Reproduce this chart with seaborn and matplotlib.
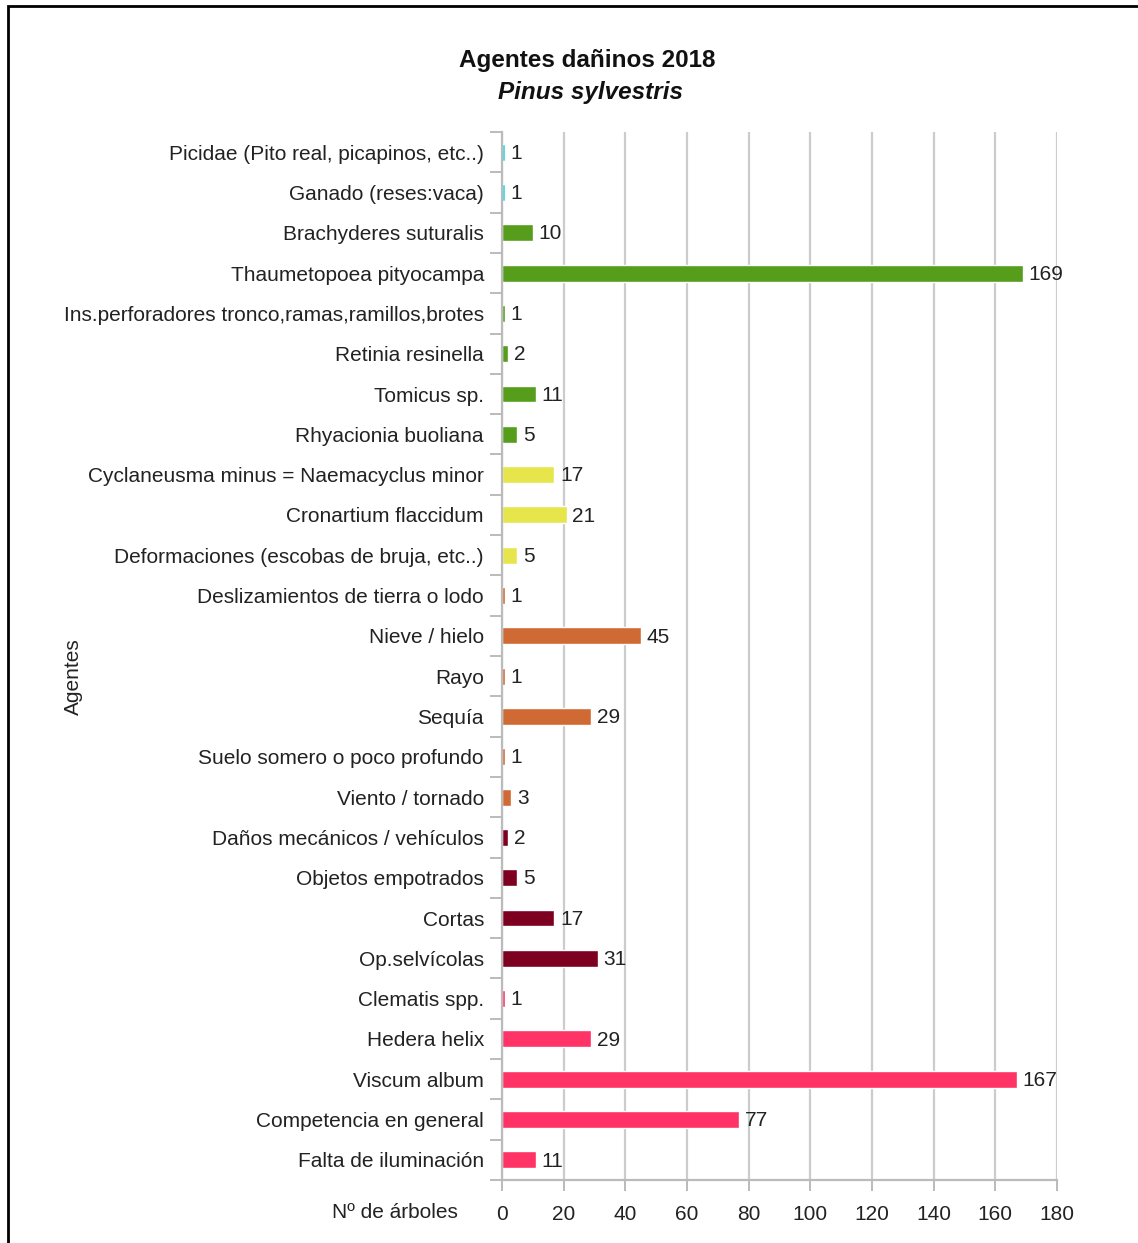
import matplotlib
matplotlib.use("Agg")
import matplotlib.pyplot as plt
import seaborn as sns
import pandas as pd
from matplotlib.patches import Rectangle
from matplotlib.ticker import FixedLocator

agentes = [
    "Picidae (Pito real, picapinos, etc..)",
    "Ganado (reses:vaca)",
    "Brachyderes suturalis",
    "Thaumetopoea pityocampa",
    "Ins.perforadores tronco,ramas,ramillos,brotes",
    "Retinia resinella",
    "Tomicus sp.",
    "Rhyacionia buoliana",
    "Cyclaneusma minus = Naemacyclus minor",
    "Cronartium flaccidum",
    "Deformaciones (escobas de bruja, etc..)",
    "Deslizamientos de tierra o lodo",
    "Nieve / hielo",
    "Rayo",
    "Sequía",
    "Suelo somero o poco profundo",
    "Viento / tornado",
    "Daños mecánicos / vehículos",
    "Objetos empotrados",
    "Cortas",
    "Op.selvícolas",
    "Clematis spp.",
    "Hedera helix",
    "Viscum album",
    "Competencia en general",
    "Falta de iluminación",
]
arboles = [1, 1, 10, 169, 1, 2, 11, 5, 17, 21, 5, 1, 45, 1, 29, 1, 3, 2, 5, 17, 31, 1, 29, 167, 77, 11]
grupos = ["fauna"] * 2 + ["insectos"] * 6 + ["hongos"] * 3 + ["abioticos"] * 6 + \
         ["antropicos"] * 4 + ["plantas"] * 5
colores_grupo = {
    "fauna": "#2ad4e4",
    "insectos": "#579d1c",
    "hongos": "#e6e64c",
    "abioticos": "#d06a34",
    "antropicos": "#7e0021",
    "plantas": "#ff3366",
}
x_ticks = [0, 20, 40, 60, 80, 100, 120, 140, 160, 180]

df = pd.DataFrame({"Agentes": agentes, "Arboles": arboles, "Grupo": grupos})
palette = {a: colores_grupo[g] for a, g in zip(agentes, grupos)}

sns.set_theme(style="white")
plt.rcParams["font.family"] = ["Liberation Sans", "DejaVu Sans"]

fig = plt.figure(figsize=(11.38, 12.43), dpi=100)
ax = fig.add_axes([502 / 1138, 1 - 1180 / 1243, (1057 - 502) / 1138, (1180 - 132) / 1243])

sns.barplot(data=df, x="Arboles", y="Agentes", hue="Agentes", palette=palette,
            legend=False, width=0.42, ax=ax, saturation=1)

ax.set_xlim(0, 180)
ax.set_ylim(len(agentes) - 0.5, -0.5)
ax.set_xticks(x_ticks)
ax.xaxis.grid(True, color="#cccccc", linewidth=1.6)
ax.set_axisbelow(True)
for s in ["top", "right"]:
    ax.spines[s].set_visible(False)
for s in ["left", "bottom"]:
    ax.spines[s].set_color("#bbbbbb")
    ax.spines[s].set_linewidth(1.6)

ax.tick_params(axis="x", length=8, width=1.4, color="#bbbbbb", labelsize=15,
               pad=10, labelcolor="#222222", direction="out", bottom=True)
ax.tick_params(axis="y", which="major", length=0, labelsize=15, pad=13, labelcolor="#222222")
ax.yaxis.set_minor_locator(FixedLocator([i - 0.5 for i in range(len(agentes) + 1)]))
ax.tick_params(axis="y", which="minor", length=9, width=1.4, color="#bbbbbb", left=True)

for i, v in enumerate(arboles):
    ax.text(v + 1.8, i + 0.03, str(v), va="center", ha="left", fontsize=15, color="#222222")

ax.set_ylabel("")
ax.set_xlabel("")
fig.text(73 / 1138, 1 - 677 / 1243, "Agentes", rotation=90, ha="center", va="center",
         fontsize=15, color="#222222")
fig.text(395 / 1138, 1 - 1212 / 1243, "Nº de árboles", ha="center", va="center",
         fontsize=15, color="#222222")
fig.text(587 / 1138, 1 - 60 / 1243, "Agentes dañinos 2018", ha="center", va="center",
         fontsize=17.5, fontweight="bold", color="#111111")
fig.text(590 / 1138, 1 - 93 / 1243, "Pinus sylvestris", ha="center", va="center",
         fontsize=17.5, fontweight="bold", style="italic", color="#111111")

fig.patches.append(Rectangle((8 / 1138, -0.05), 1.2, 1.05 - 6 / 1243, transform=fig.transFigure,
                             fill=False, edgecolor="black", linewidth=2))

fig.savefig("out.png", dpi=100, facecolor="white")
